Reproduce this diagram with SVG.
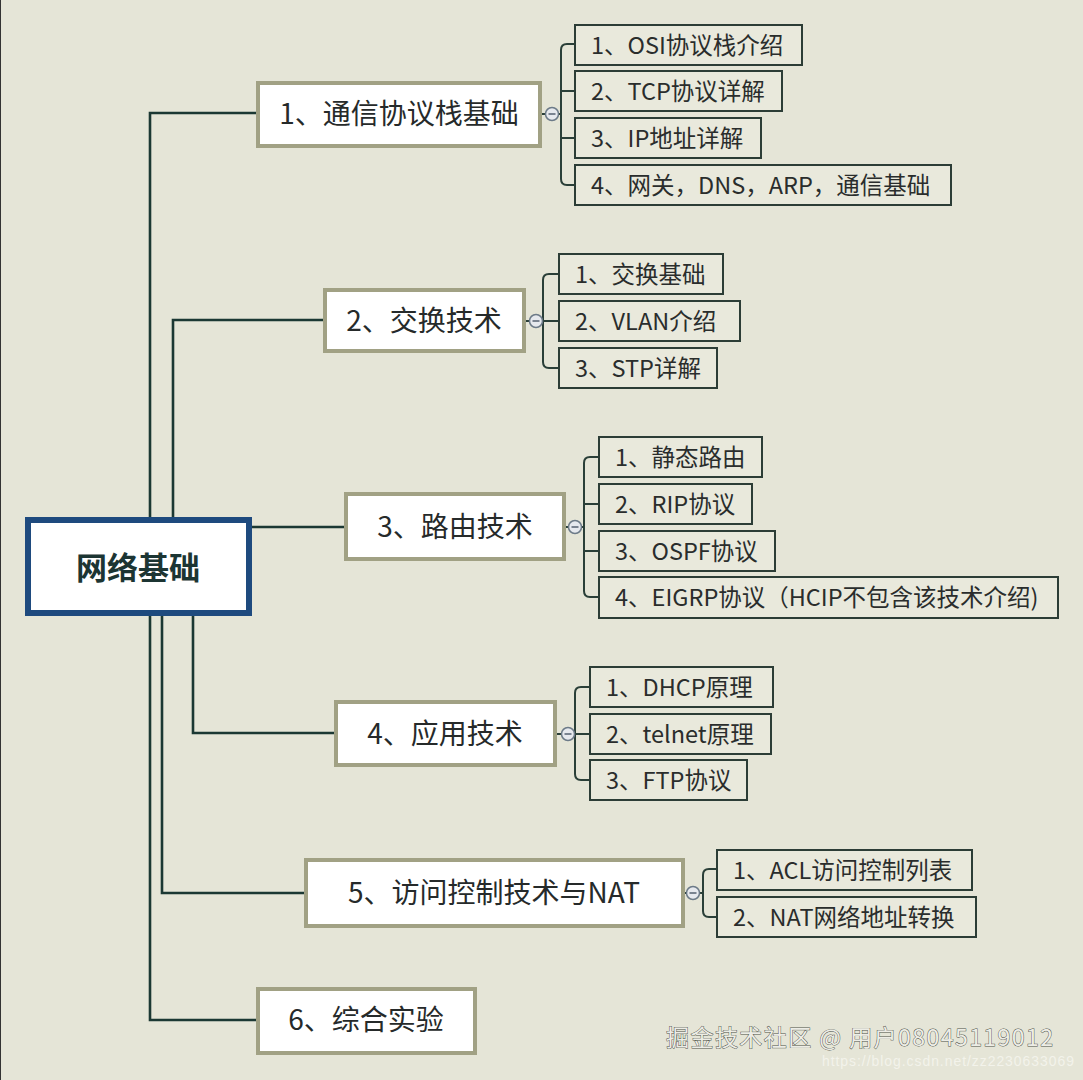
<svg xmlns="http://www.w3.org/2000/svg" width="1083" height="1080" viewBox="0 0 1083 1080">
<style>
  .bg{fill:#E5E5D7}
  .root rect{fill:#FFFFFF;stroke:#1E4A7E;stroke-width:6}
  .root text{font-family:"Noto Sans CJK SC","Noto Sans",sans-serif;font-weight:bold;font-size:31px;fill:#1C3533;text-anchor:middle;dominant-baseline:central;transform:translateY(-2px)}
  .branch rect{fill:#FFFFFF;stroke:#A1A184;stroke-width:4}
  .branch text{font-family:"Noto Sans CJK SC","Noto Sans",sans-serif;font-size:28px;fill:#262A2A;text-anchor:middle;dominant-baseline:central;transform:translateY(-2px)}
  .leaf rect{fill:#E9E9DC;stroke:#2C3D36;stroke-width:2}
  .leaf text{font-family:"Noto Sans CJK SC","Noto Sans",sans-serif;font-size:23.5px;fill:#2A2D2C;dominant-baseline:central;transform:translateY(-1.5px)}
  .conn path{fill:none;stroke:#1B3833;stroke-width:2.6}
  .conn .br{stroke:#2A3F38;stroke-width:2}
  .tog circle{fill:#E6E9EE;stroke:#6C7A88;stroke-width:1.5}
  .tog path{stroke:#4A5868;stroke-width:1.4}
  .wm{font-family:"Noto Sans CJK SC","Noto Sans",sans-serif;font-size:23px;fill:#EDEDE6;stroke:#4E524A;stroke-width:0.9;paint-order:stroke}
  .url{font-family:"Liberation Sans","Noto Sans",sans-serif;font-size:14px;fill:#F8F8F2;opacity:0.75}
</style>
<rect class="bg" x="0" y="0" width="1083" height="1080"/>
<line x1="0.5" y1="0" x2="0.5" y2="1080" stroke="#333" stroke-width="1"/>

<g id="connectors" class="conn">
  <path d="M150,517 V113 H256"/>
  <path d="M173,517 V320 H323"/>
  <path d="M252,527 H344"/>
  <path d="M193,616 V733 H334"/>
  <path d="M162,616 V893 H304"/>
  <path d="M150,616 V1020 H256"/>
  <path class="br" d="M541,114 H546 M558,114 H561"/>
  <path class="br" d="M525,321 H530 M542,321 H543"/>
  <path class="br" d="M565,527 H569 M581,527 H584"/>
  <path class="br" d="M556,734 H562 M574,734 H575"/>
  <path class="br" d="M684,893 H687 M699,893 H703"/>
  <path class="br" d="M574,44 H567 Q561,44 561,50 V179 Q561,185 567,185 H574 M561,91 H574 M561,138 H574"/>
  <path class="br" d="M558,274 H549 Q543,274 543,280 V362 Q543,368 549,368 H558 M543,321 H558"/>
  <path class="br" d="M598,457 H590 Q584,457 584,463 V591 Q584,597 590,597 H598 M584,504 H598 M584,551 H598"/>
  <path class="br" d="M589,687 H581 Q575,687 575,693 V774 Q575,780 581,780 H589 M575,734 H589"/>
  <path class="br" d="M716,869 H709 Q703,869 703,875 V911 Q703,917 709,917 H716"/>
</g>

<g class="tog">
  <g id="toggle1"><circle cx="552" cy="114" r="6.5"/><path d="M548.5,114 H555.5"/></g>
  <g id="toggle2"><circle cx="536" cy="321" r="6.5"/><path d="M532.5,321 H539.5"/></g>
  <g id="toggle3"><circle cx="575" cy="527" r="6.5"/><path d="M571.5,527 H578.5"/></g>
  <g id="toggle4"><circle cx="568" cy="734" r="6.5"/><path d="M564.5,734 H571.5"/></g>
  <g id="toggle5"><circle cx="693" cy="893" r="6.5"/><path d="M689.5,893 H696.5"/></g>
</g>

<g id="root" class="root">
  <rect x="28" y="520" width="221" height="93"/>
  <text x="138" y="567">网络基础</text>
</g>

<g id="b1" class="branch"><rect x="258" y="83" width="282" height="63"/><text x="399" y="114">1、通信协议栈基础</text></g>
<g id="b2" class="branch"><rect x="325" y="290" width="199" height="61"/><text x="424" y="321">2、交换技术</text></g>
<g id="b3" class="branch"><rect x="346" y="494" width="218" height="65"/><text x="455" y="527">3、路由技术</text></g>
<g id="b4" class="branch"><rect x="336" y="702" width="219" height="63"/><text x="445" y="734">4、应用技术</text></g>
<g id="b5" class="branch"><rect x="306" y="860" width="377" height="66"/><text x="494" y="893">5、访问控制技术与NAT</text></g>
<g id="b6" class="branch"><rect x="258" y="989" width="217" height="64"/><text x="366" y="1020">6、综合实验</text></g>

<g id="b1l1" class="leaf"><rect x="575" y="25" width="227" height="40"/><text x="591" y="45">1、OSI协议栈介绍</text></g>
<g id="b1l2" class="leaf"><rect x="575" y="71" width="207" height="40"/><text x="591" y="91">2、TCP协议详解</text></g>
<g id="b1l3" class="leaf"><rect x="575" y="118" width="186" height="40"/><text x="591" y="138">3、IP地址详解</text></g>
<g id="b1l4" class="leaf"><rect x="575" y="165" width="376" height="40"/><text x="591" y="185">4、网关，DNS，ARP，通信基础</text></g>

<g id="b2l1" class="leaf"><rect x="559" y="254" width="164" height="40"/><text x="575" y="274">1、交换基础</text></g>
<g id="b2l2" class="leaf"><rect x="559" y="301" width="181" height="40"/><text x="575" y="321">2、VLAN介绍</text></g>
<g id="b2l3" class="leaf"><rect x="559" y="348" width="158" height="40"/><text x="575" y="368">3、STP详解</text></g>

<g id="b3l1" class="leaf"><rect x="599" y="437" width="163" height="40"/><text x="615" y="457">1、静态路由</text></g>
<g id="b3l2" class="leaf"><rect x="599" y="484" width="153" height="40"/><text x="615" y="504">2、RIP协议</text></g>
<g id="b3l3" class="leaf"><rect x="599" y="531" width="176" height="40"/><text x="615" y="551">3、OSPF协议</text></g>
<g id="b3l4" class="leaf"><rect x="599" y="577" width="459" height="41"/><text x="615" y="597">4、EIGRP协议（HCIP不包含该技术介绍)</text></g>

<g id="b4l1" class="leaf"><rect x="590" y="667" width="183" height="40"/><text x="606" y="687">1、DHCP原理</text></g>
<g id="b4l2" class="leaf"><rect x="590" y="714" width="181" height="40"/><text x="606" y="734">2、telnet原理</text></g>
<g id="b4l3" class="leaf"><rect x="590" y="760" width="157" height="40"/><text x="606" y="780">3、FTP协议</text></g>

<g id="b5l1" class="leaf"><rect x="717" y="850" width="255" height="40"/><text x="733" y="870">1、ACL访问控制列表</text></g>
<g id="b5l2" class="leaf"><rect x="717" y="897" width="259" height="40"/><text x="733" y="917">2、NAT网络地址转换</text></g>

<text class="wm" x="666" y="1046" textLength="387">掘金技术社区 @ 用户08045119012</text>
<text class="url" x="822" y="1066" textLength="252">https://blog.csdn.net/zz2230633069</text>
</svg>
